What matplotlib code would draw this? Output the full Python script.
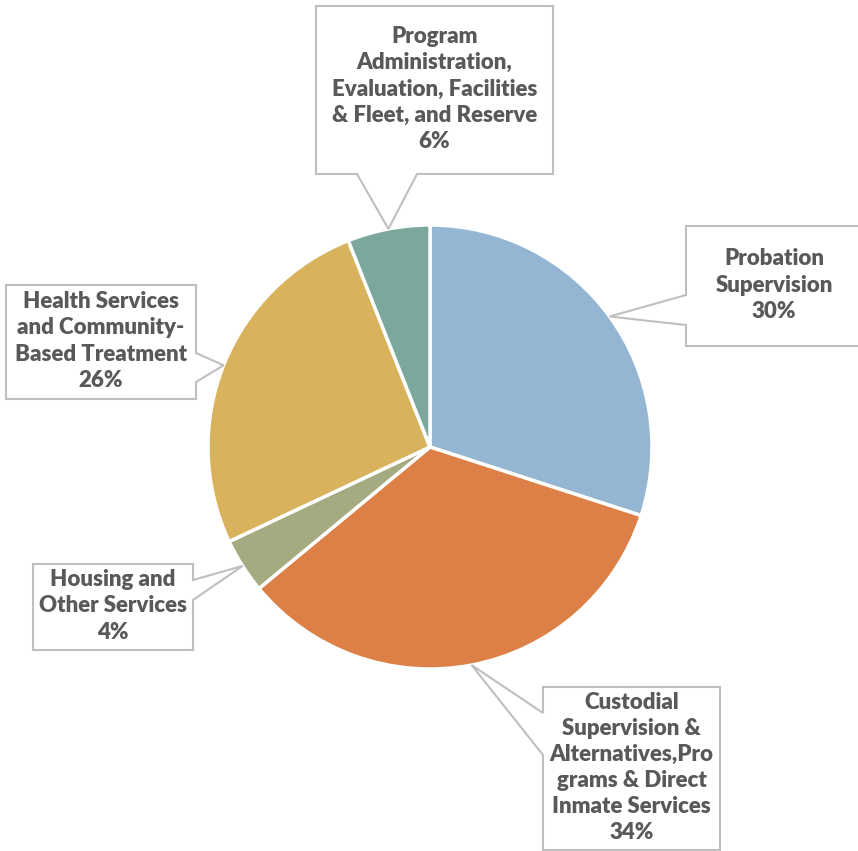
import matplotlib.pyplot as plt
import numpy as np
from matplotlib.path import Path
from matplotlib.patches import PathPatch

# Daten
categories = [
    "Probation\nSupervision",
    "Custodial\nSupervision &\nAlternatives,Pro\ngrams & Direct\nInmate Services",
    "Housing and\nOther Services",
    "Health Services\nand Community-\nBased Treatment",
    "Program\nAdministration,\nEvaluation, Facilities\n& Fleet, and Reserve",
]
values = [30, 34, 4, 26, 6]
colors = ["#94B6D2", "#DD8047", "#A5AB81", "#D8B25C", "#7BA79D"]

W, H = 858, 851
TEXT = "#595959"
EDGE = "#BFBFBF"

fig = plt.figure(figsize=(W / 100, H / 100), dpi=100)
ax = fig.add_axes([0, 0, 1, 1])

wedges, _ = ax.pie(values, colors=colors, startangle=90, counterclock=False,
                   center=(430, H - 447), radius=222,
                   wedgeprops=dict(edgecolor="white", linewidth=2.5))
ax.set_xlim(0, W)
ax.set_ylim(0, H)
ax.set_aspect("equal")
ax.axis("off")


def tip_of(w):
    a = np.deg2rad((w.theta1 + w.theta2) / 2)
    return (w.center[0] + w.r * np.cos(a), w.center[1] + w.r * np.sin(a))


def callout(w, box, side, notch, text):
    # box in Pixel (x0, y0 oben, x1, y1 unten), notch = Spanne der Basis der Spitze
    x0, y0, x1, y1 = box
    tx, ty = tip_of(w)
    a, b = notch
    if side == "bottom":
        pts = [(x0, y0), (x1, y0), (x1, y1), (b, y1), (tx, H - ty), (a, y1), (x0, y1)]
    elif side == "left":
        pts = [(x0, y0), (x1, y0), (x1, y1), (x0, y1), (x0, b), (tx, H - ty), (x0, a)]
    else:  # right
        pts = [(x0, y0), (x1, y0), (x1, a), (tx, H - ty), (x1, b), (x1, y1), (x0, y1)]
    pts = [(x, H - y) for x, y in pts] + [(x0, H - y0)]
    codes = [Path.MOVETO] + [Path.LINETO] * (len(pts) - 2) + [Path.CLOSEPOLY]
    ax.add_patch(PathPatch(Path(pts, codes), facecolor="white", edgecolor=EDGE,
                           linewidth=1.5, zorder=3))
    ax.text((x0 + x1) / 2, H - (y0 + y1) / 2 + 1, text, ha="center", va="center",
            multialignment="center", fontsize=16, fontweight="heavy", color=TEXT,
            family="Lato", linespacing=1.3, zorder=4)


layout = [
    ((686, 226, 862, 346), "left", (295, 325)),
    ((543, 687, 720, 850), "left", (713, 755)),
    ((33, 564, 193, 650), "right", (580, 600)),
    ((6, 285, 196, 399), "right", (353, 382)),
    ((316, 6, 553, 174), "bottom", (357, 417)),
]

for w, cat, v, (box, side, notch) in zip(wedges, categories, values, layout):
    callout(w, box, side, notch, f"{cat}\n{v}%")

fig.savefig("out.png", dpi=100)
